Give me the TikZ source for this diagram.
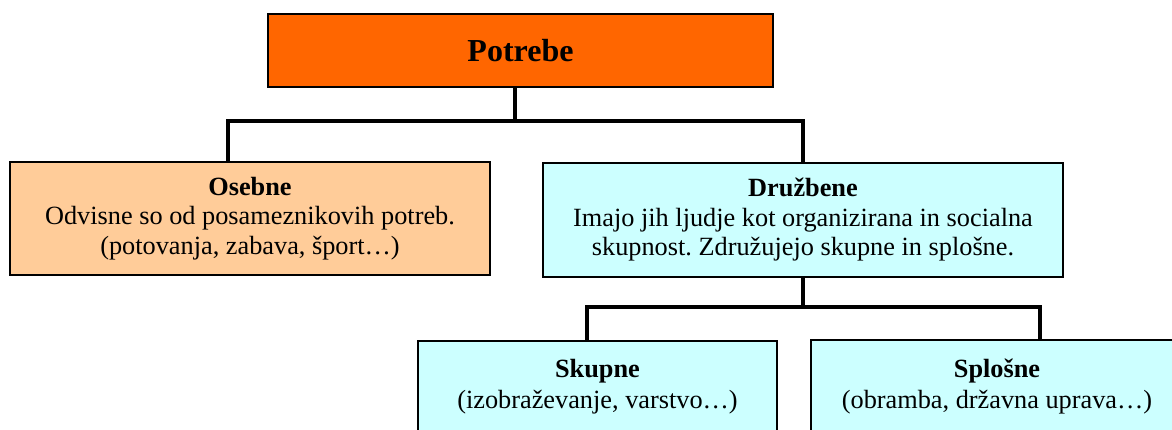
\documentclass[tikz,border=0pt]{standalone}
\usepackage{fontspec}
\setmainfont{Liberation Serif}
\frenchspacing
\definecolor{orangeT}{HTML}{FF6600}
\definecolor{peach}{HTML}{FFCC99}
\definecolor{lcyan}{HTML}{CCFFFF}
\begin{document}
\begin{tikzpicture}[x=1pt,y=-1pt,
  box/.style={draw=black,line width=1.6pt,inner sep=0pt,align=center,font=\fontsize{26.3}{29.5}\selectfont},
  txt/.style={inner sep=0pt,align=center,font=\fontsize{26.3}{30.5}\selectfont},
  conn/.style={line width=4pt}]
\useasboundingbox (0,0) rectangle (1172,430);
\clip (0,0) rectangle (1172,430);
\node[box,fill=orangeT,minimum width=505pt,minimum height=73pt,font=\fontsize{32}{36}\selectfont\bfseries] (potrebe) at (520.5,50.5) {Potrebe};
\node[box,fill=peach,minimum width=480pt,minimum height=113pt] (osebne) at (250,218.5)
  {\textbf{Osebne}\\Odvisne so od posameznikovih potreb.\\(potovanja, zabava, šport…)};
\node[box,fill=lcyan,minimum width=520pt,minimum height=114pt] (druzbene) at (803,220)
  {\textbf{Družbene}\\Imajo jih ljudje kot organizirana in socialna\\skupnost. Združujejo skupne in splošne.};
\node[box,fill=lcyan,minimum width=359pt,minimum height=110pt] (skupne) at (597.5,396) {};
\node[box,fill=lcyan,minimum width=372pt,minimum height=110pt] (splosne) at (997,395) {};
\node[txt] (skupneT) at (597.5,386.5) {\textbf{Skupne}\\(izobraževanje, varstvo…)};
\node[txt] (splosneT) at (997,386.5) {\textbf{Splošne}\\(obramba, državna uprava…)};
\coordinate (j1) at (515,121);
\coordinate (a1) at (228,121);
\coordinate (a2) at (803,121);
\draw[conn] (potrebe.south -| j1) -- (j1);
\draw[conn] (osebne.north -| a1) -- (a1) -- (a2) -- (druzbene.north -| a2);
\coordinate (j2) at (803,307);
\coordinate (b1) at (587,307);
\coordinate (b2) at (1040,307);
\draw[conn] (druzbene.south -| j2) -- (j2);
\draw[conn] (skupne.north -| b1) -- (b1) -- (b2) -- (splosne.north -| b2);
\end{tikzpicture}
\end{document}
